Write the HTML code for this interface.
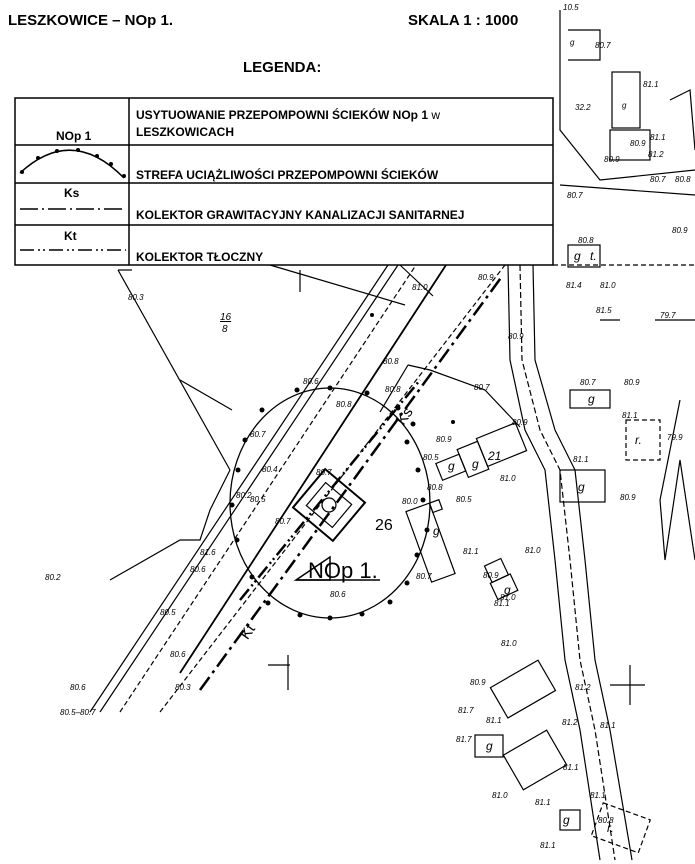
<!DOCTYPE html>
<html><head><meta charset="utf-8"><style>
html,body{margin:0;padding:0;background:#fff;}
svg{display:block;font-family:"Liberation Sans",sans-serif;}
.t{font-size:8px;font-style:italic;}
.b{font-weight:bold;}
</style></head><body>
<svg width="695" height="864" viewBox="0 0 695 864" xmlns="http://www.w3.org/2000/svg">
<rect width="695" height="864" fill="#fff"/>
<text x="8" y="25" font-size="15" class="b">LESZKOWICE – NOp 1.</text>
<text x="408" y="25" font-size="15" class="b">SKALA 1 : 1000</text>
<text x="243" y="72" font-size="15" class="b">LEGENDA:</text>

<!-- top-right map fragment -->
<g stroke="#000" fill="none" stroke-width="1.2">
<path d="M560 10 L560 130 L600 180 L695 170"/>
<path d="M568 30 L600 30 L600 60 L568 60"/>
<rect x="612" y="72" width="28" height="56"/>
<rect x="610" y="130" width="40" height="30"/>
<path d="M560 185 L695 195"/>
<path d="M553 265 L695 265" stroke-dasharray="5 3"/>
<path d="M670 100 L690 90 L695 150"/>
</g>
<text class="t" x="563" y="10">10.5</text>
<text class="t" x="595" y="48">80.7</text>
<text class="t" x="570" y="45" font-size="12">g</text>
<text class="t" x="622" y="108" font-size="13">g</text>
<text class="t" x="643" y="87">81.1</text>
<text class="t" x="575" y="110">32.2</text>
<text class="t" x="630" y="146">80.9</text>
<text class="t" x="604" y="162">80.9</text>
<text class="t" x="650" y="140">81.1</text>
<text class="t" x="648" y="157">81.2</text>
<text class="t" x="650" y="182">80.7</text>
<text class="t" x="675" y="182">80.8</text>
<text class="t" x="567" y="198">80.7</text>
<text class="t" x="672" y="233">80.9</text>

<!-- legend -->
<g stroke="#000" stroke-width="1.5" fill="none">
<rect x="15" y="98" width="538" height="167"/>
<line x1="129" y1="98" x2="129" y2="265"/>
<line x1="15" y1="145" x2="553" y2="145"/>
<line x1="15" y1="183" x2="553" y2="183"/>
<line x1="15" y1="225" x2="553" y2="225"/>
<path d="M20 173 Q72 125 124 178"/>
<line x1="20" y1="209" x2="126" y2="209" stroke-dasharray="18 4 2 4"/>
<line x1="20" y1="250" x2="126" y2="250" stroke-dasharray="14 4 2 3 2 4"/>
</g>
<g fill="#000">
<circle cx="22" cy="172" r="2"/><circle cx="38" cy="158" r="2"/><circle cx="57" cy="151" r="2"/><circle cx="78" cy="150" r="2"/><circle cx="97" cy="156" r="2"/><circle cx="111" cy="164" r="2"/><circle cx="124" cy="176" r="2"/>
</g>
<g font-size="12" class="b">
<text x="56" y="140">NOp 1</text>
<text x="136" y="119">USYTUOWANIE PRZEPOMPOWNI ŚCIEKÓW NOp 1 <tspan font-weight="normal">w</tspan></text>
<text x="136" y="136">LESZKOWICACH</text>
<text x="136" y="179">STREFA UCIĄŻLIWOŚCI PRZEPOMPOWNI ŚCIEKÓW</text>
<text x="64" y="197">Ks</text>
<text x="136" y="219">KOLEKTOR GRAWITACYJNY KANALIZACJI SANITARNEJ</text>
<text x="64" y="240">Kt</text>
<text x="136" y="261">KOLEKTOR TŁOCZNY</text>
</g>

<!-- main map lines -->
<g stroke="#000" fill="none" stroke-width="1.2">
<!-- diagonal road -->
<line x1="180" y1="673" x2="446" y2="265" stroke-width="1.8"/>
<line x1="120" y1="712" x2="416" y2="265" stroke-dasharray="5 3"/>
<line x1="100" y1="712" x2="398" y2="265"/>
<line x1="90" y1="712" x2="388" y2="265"/>
<line x1="160" y1="712" x2="505" y2="265" stroke-dasharray="5 3"/>
<line x1="200" y1="690" x2="503" y2="275" stroke-width="2.5" stroke-dasharray="16 5 3 5"/>
<line x1="240" y1="600" x2="420" y2="380" stroke-width="2.5" stroke-dasharray="14 4 2 3 2 4"/>
<!-- parcel lines -->
<line x1="118" y1="270" x2="230" y2="470"/>
<line x1="118" y1="270" x2="132" y2="270"/>
<line x1="180" y1="380" x2="232" y2="410"/>
<line x1="300" y1="270" x2="300" y2="292"/>
<line x1="270" y1="265" x2="405" y2="305"/>
<line x1="400" y1="265" x2="433" y2="296"/>
<path d="M408 365 L430 370 L485 390 L520 427"/>
<line x1="408" y1="365" x2="380" y2="412"/>
<path d="M230 470 L210 510 L200 540 L180 540 L110 580"/>
<!-- right road -->
<path d="M508 265 L510 360 L525 430 L545 470 L555 560 L565 660 L580 730 L600 860"/>
<path d="M520 265 L522 360 L540 430 L560 470 L570 560 L580 660 L595 730 L615 860" stroke-dasharray="6 3"/>
<path d="M533 265 L535 360 L555 430 L575 470 L585 560 L595 660 L610 730 L632 860"/>
<!-- NOp1 square -->
<g transform="rotate(40 329 505)">
<rect x="303" y="480" width="52" height="50" stroke-width="2"/>
<rect x="312" y="490" width="34" height="30"/>
</g>
<circle cx="329" cy="505" r="7"/>
<path d="M296 580 L330 557 L330 580 Z" stroke-width="1.5"/>
<line x1="296" y1="580" x2="380" y2="580" stroke-width="1.5"/>
<!-- buildings -->
<g transform="rotate(-22 460 470)">
<rect x="440" y="455" width="25" height="18"/>
<rect x="465" y="450" width="22" height="30"/>
<rect x="487" y="447" width="42" height="30"/>
</g>
<g transform="rotate(-20 445 540)">
<rect x="418" y="500" width="25" height="75"/>
<rect x="443" y="500" width="10" height="10"/>
</g>
<rect x="570" y="390" width="40" height="18"/>
<rect x="560" y="470" width="45" height="32"/>
<rect x="626" y="420" width="34" height="40" stroke-dasharray="5 3"/>
<rect x="568" y="245" width="32" height="22"/>
<g transform="rotate(-30 535 685)"><rect x="495" y="665" width="55" height="35"/></g>
<g transform="rotate(-30 535 760)"><rect x="510" y="740" width="50" height="40"/></g>
<rect x="475" y="735" width="28" height="22"/>
<rect x="596" y="810" width="50" height="35" stroke-dasharray="5 3" transform="rotate(20 620 827)"/>
<rect x="560" y="810" width="20" height="20"/>
<g transform="rotate(-25 502 580)"><rect x="492" y="560" width="18" height="18"/><rect x="490" y="578" width="22" height="18"/></g>
<!-- crosses -->
<path d="M268 665 L290 665 M288 655 L288 690"/>
<path d="M610 685 L645 685 M630 665 L630 705"/>
<path d="M600 320 L620 320"/>
<path d="M655 320 L695 320"/>
<!-- arrow right -->
<path d="M680 400 L660 500 L665 560 L680 460 L695 560"/>
</g>
<!-- zone ellipse -->
<ellipse cx="330" cy="503" rx="100" ry="115" fill="none" stroke="#000" stroke-width="1.3"/>
<g fill="#000">
<circle cx="330" cy="388" r="2.5"/><circle cx="367" cy="393" r="2.5"/><circle cx="398" cy="408" r="2.5"/><circle cx="413" cy="424" r="2.5"/><circle cx="407" cy="442" r="2.5"/><circle cx="418" cy="470" r="2.5"/><circle cx="423" cy="500" r="2.5"/><circle cx="427" cy="530" r="2.5"/><circle cx="417" cy="555" r="2.5"/><circle cx="407" cy="583" r="2.5"/><circle cx="390" cy="602" r="2.5"/><circle cx="362" cy="614" r="2.5"/><circle cx="330" cy="618" r="2.5"/><circle cx="300" cy="615" r="2.5"/><circle cx="268" cy="603" r="2.5"/><circle cx="252" cy="577" r="2.5"/><circle cx="237" cy="540" r="2.5"/><circle cx="232" cy="505" r="2.5"/><circle cx="238" cy="470" r="2.5"/><circle cx="245" cy="440" r="2.5"/><circle cx="262" cy="410" r="2.5"/><circle cx="297" cy="390" r="2.5"/><circle cx="372" cy="315" r="2"/><circle cx="453" cy="422" r="2"/>
</g>
<!-- labels -->
<text x="375" y="530" font-size="16">26</text>
<text x="308" y="578" font-size="22">NOp 1.</text>
<text x="395" y="420" font-size="15" transform="rotate(-55 405 415)">Ks</text>
<text x="238" y="638" font-size="15" transform="rotate(-55 245 630)">Kt</text>
<text x="220" y="320" font-size="10" font-style="italic" text-decoration="underline">16</text>
<text x="222" y="332" font-size="10" font-style="italic">8</text>
<text class="t" x="128" y="300">80.3</text>
<text class="t" x="412" y="290">81.0</text>
<text class="t" x="478" y="280">80.9</text>
<text class="t" x="303" y="384">80.6</text>
<text class="t" x="383" y="364">80.8</text>
<text class="t" x="385" y="392">80.8</text>
<text class="t" x="336" y="407">80.8</text>
<text class="t" x="474" y="390">80.7</text>
<text class="t" x="250" y="437">80.7</text>
<text class="t" x="262" y="472">80.4</text>
<text class="t" x="236" y="498">80.2</text>
<text class="t" x="250" y="502">80.5</text>
<text class="t" x="316" y="475">80.7</text>
<text class="t" x="275" y="524">80.7</text>
<text class="t" x="436" y="442">80.9</text>
<text class="t" x="423" y="460">80.5</text>
<text class="t" x="427" y="490">80.8</text>
<text class="t" x="402" y="504">80.0</text>
<text class="t" x="456" y="502">80.5</text>
<text class="t" x="463" y="554">81.1</text>
<text class="t" x="416" y="579">80.7</text>
<text class="t" x="330" y="597">80.6</text>
<text class="t" x="512" y="425">80.9</text>
<text class="t" x="508" y="339">80.9</text>
<text class="t" x="500" y="481">81.0</text>
<text class="t" x="525" y="553">81.0</text>
<text class="t" x="483" y="578">80.9</text>
<text class="t" x="500" y="600">81.0</text>
<text class="t" x="494" y="606">81.1</text>
<text class="t" x="200" y="555">81.6</text>
<text class="t" x="190" y="572">80.6</text>
<text class="t" x="45" y="580">80.2</text>
<text class="t" x="160" y="615">80.5</text>
<text class="t" x="170" y="657">80.6</text>
<text class="t" x="70" y="690">80.6</text>
<text class="t" x="175" y="690">80.3</text>
<text class="t" x="60" y="715">80.5–80.7</text>
<text class="t" x="578" y="243">80.8</text>
<text class="t" x="566" y="288">81.4</text>
<text class="t" x="600" y="288">81.0</text>
<text class="t" x="596" y="313">81.5</text>
<text class="t" x="660" y="318">79.7</text>
<text class="t" x="580" y="385">80.7</text>
<text class="t" x="624" y="385">80.9</text>
<text class="t" x="622" y="418">81.1</text>
<text class="t" x="573" y="462">81.1</text>
<text class="t" x="620" y="500">80.9</text>
<text class="t" x="667" y="440">79.9</text>
<text class="t" x="501" y="646">81.0</text>
<text class="t" x="470" y="685">80.9</text>
<text class="t" x="575" y="690">81.2</text>
<text class="t" x="458" y="713">81.7</text>
<text class="t" x="486" y="723">81.1</text>
<text class="t" x="562" y="725">81.2</text>
<text class="t" x="600" y="728">81.1</text>
<text class="t" x="456" y="742">81.7</text>
<text class="t" x="563" y="770">81.1</text>
<text class="t" x="492" y="798">81.0</text>
<text class="t" x="535" y="805">81.1</text>
<text class="t" x="590" y="798">81.1</text>
<text class="t" x="540" y="848">81.1</text>
<text class="t" x="598" y="823">80.8</text>
<g font-size="12" font-style="italic">
<text x="448" y="470">g</text><text x="472" y="468">g</text><text x="433" y="535">g</text>
<text x="588" y="403">g</text><text x="578" y="491">g</text><text x="574" y="260">g</text><text x="590" y="260">t.</text>
<text x="486" y="750">g</text><text x="635" y="444">r.</text><text x="607" y="832">r.</text><text x="563" y="824">g</text>
<text x="504" y="594">g</text><text x="488" y="460">21</text>
</g>
</svg>
</body></html>
